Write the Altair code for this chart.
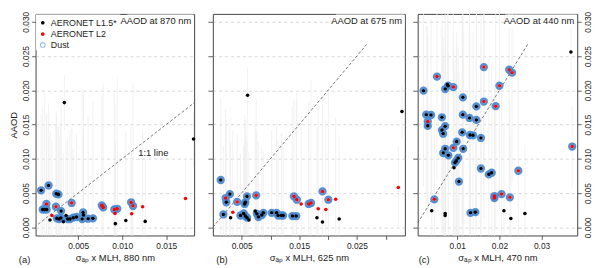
import altair as alt
import pandas as pd

# ---------------- data ----------------
# panel (a) AAOD at 870 nm
a_x = [0.00079, 0.00164, 0.00251, 0.00276, 0.00139, 0.00097, 0.00120, 0.00142, 0.00247, 0.00426,
       0.00306, 0.00202, 0.00180, 0.00258, 0.00284, 0.00303, 0.00332, 0.00362, 0.00381, 0.00407,
       0.00444, 0.00482, 0.00556, 0.00560, 0.00545, 0.00612, 0.00668, 0.00768, 0.00784, 0.00910,
       0.00944, 0.00918, 0.00922, 0.01041, 0.01101, 0.01123, 0.01108, 0.01232, 0.01261, 0.01719,
       0.01810, 0.00343]
a_y = [0.0054, 0.0061, 0.0049, 0.0048, 0.0034, 0.0026, 0.0026, 0.0026, 0.0030, 0.00355,
       0.00236, 0.00172, 0.00106, 0.0013, 0.0012, 0.00135, 0.00082, 0.00172, 0.0012, 0.0012,
       0.0014, 0.0015, 0.00216, 0.00178, 0.0012, 0.00125, 0.0013, 0.0032, 0.0029, 0.0026,
       0.0027, 0.0020, 0.00053, 0.0010, 0.00365, 0.0031, 0.00197, 0.0030, 0.00086, 0.0042,
       0.0129, 0.0182]
a_src = ["L15", "L15", "L15", "L15", "L2", "L15", "L15", "L15", "L2", "L2",
         "L15", "L2", "L15", "L15", "L15", "L15", "L15", "L15", "L15", "L15",
         "L15", "L15", "L15", "L15", "L15", "L15", "L15", "L2", "L2", "L2",
         "L2", "L2", "L15", "L15", "L2", "L2", "L2", "L2", "L15", "L2",
         "L15", "L15"]
a_dust = [1, 1, 1, 1, 1, 1, 1, 1, 1, 1,
          1, 0, 0, 1, 1, 1, 0, 0, 1, 1,
          1, 1, 1, 0, 1, 1, 1, 1, 1, 1,
          1, 0, 0, 0, 1, 1, 0, 0, 0, 0,
          0, 0]
a_err = [0.011, 0.012, 0.012, 0.010, 0.013, 0.015, 0.017, 0.014, 0.012, 0.011,
         0.016, 0.011, 0.013, 0.015, 0.012, 0.014, 0.010, 0.011, 0.012, 0.013,
         0.010, 0.012, 0.011, 0.018, 0.019, 0.015, 0.017, 0.016, 0.018, 0.017,
         0.019, 0.016, 0.012, 0.013, 0.011, 0.018, 0.009, 0.011, 0.009, 0.006,
         0.004, 0.004]

# panel (b) AAOD at 675 nm
b_x = [0.00137, 0.00296, 0.00222, 0.00234, 0.00422, 0.00593, 0.00564, 0.00552, 0.00752, 0.00183,
       0.00347, 0.00308, 0.00479, 0.00535, 0.00564, 0.00593, 0.00627, 0.00735, 0.00764, 0.00791,
       0.00850, 0.00877, 0.01021, 0.01106, 0.01133, 0.01191, 0.01219, 0.01380, 0.01448, 0.01407,
       0.01458, 0.01533, 0.01663, 0.01704, 0.01903, 0.01829, 0.01961, 0.02005, 0.02132, 0.01807,
       0.01903, 0.02193, 0.03219, 0.00603, 0.03282]
b_y = [0.0069, 0.00484, 0.00427, 0.00365, 0.0037, 0.00451, 0.00365, 0.0034, 0.00466, 0.00187,
       0.0022, 0.0014, 0.00172, 0.00201, 0.00164, 0.0014, 0.00106, 0.00236, 0.00197, 0.0015,
       0.00178, 0.00211, 0.00211, 0.00211, 0.00172, 0.00172, 0.00172, 0.00164, 0.00164, 0.00451,
       0.00402, 0.0034, 0.0034, 0.00355, 0.00523, 0.00269, 0.00259, 0.00402, 0.00408, 0.0014,
       0.00078, 0.00121, 0.0058, 0.01926, 0.0169]
b_src = ["L15", "L15", "L2", "L15", "L2", "L15", "L15", "L15", "L2", "L15",
         "L2", "L15", "L15", "L15", "L15", "L15", "L15", "L15", "L15", "L15",
         "L15", "L15", "L15", "L15", "L15", "L15", "L15", "L15", "L15", "L2",
         "L2", "L2", "L2", "L2", "L2", "L2", "L2", "L2", "L2", "L15",
         "L15", "L15", "L2", "L15", "L15"]
b_dust = [1, 1, 1, 1, 1, 1, 1, 1, 1, 1,
          0, 0, 1, 1, 1, 1, 0, 0, 1, 1,
          1, 1, 1, 1, 1, 1, 1, 1, 1, 1,
          1, 0, 1, 1, 1, 0, 0, 1, 0, 0,
          0, 0, 0, 0, 0]
b_err = [0.012, 0.011, 0.013, 0.012, 0.010, 0.011, 0.012, 0.013, 0.014, 0.010,
         0.012, 0.011, 0.009, 0.010, 0.012, 0.011, 0.010, 0.013, 0.012, 0.011,
         0.010, 0.009, 0.012, 0.013, 0.011, 0.012, 0.010, 0.016, 0.017, 0.014,
         0.016, 0.013, 0.015, 0.018, 0.014, 0.015, 0.013, 0.016, 0.012, 0.013,
         0.014, 0.012, 0.006, 0.004, 0.004]

# panel (c) AAOD at 440 nm
c_x = [0.01631, 0.00519, 0.02231, 0.02301, 0.00766, 0.00783, 0.00713, 0.00907, 0.00199, 0.02000,
       0.01133, 0.01631, 0.01453, 0.01911, 0.00262, 0.00379, 0.01133, 0.00636, 0.01290, 0.01453,
       0.00300, 0.00300, 0.00636, 0.00713, 0.00666, 0.01117, 0.01300, 0.01374, 0.01561, 0.00986,
       0.03727, 0.00713, 0.00666, 0.00907, 0.01140, 0.00790, 0.01023, 0.00977, 0.00946, 0.00923,
       0.01561, 0.01748, 0.01818, 0.02449, 0.01040, 0.00456, 0.01881, 0.01881, 0.02051, 0.02248,
       0.00393, 0.00713, 0.00713, 0.01313, 0.01430, 0.02107, 0.02271, 0.02605, 0.03696]
c_y = [0.02339, 0.0220, 0.0230, 0.02257, 0.02084, 0.02066, 0.02018, 0.02047, 0.01994, 0.02066,
       0.01897, 0.01836, 0.01764, 0.01768, 0.01644, 0.01639, 0.01644, 0.01606, 0.01596, 0.01567,
       0.01544, 0.0148, 0.01419, 0.01476, 0.01366, 0.01386, 0.01347, 0.01343, 0.01304, 0.0125,
       0.01179, 0.01146, 0.01084, 0.0116, 0.01146, 0.0105, 0.01012, 0.00969, 0.00944, 0.00868,
       0.00858, 0.00772, 0.00796, 0.00825, 0.00667, 0.00408, 0.00456, 0.00427, 0.00484, 0.00437,
       0.0024, 0.00201, 0.00172, 0.00211, 0.00221, 0.0024, 0.00129, 0.00201, 0.02559]
c_src = ["L2", "L2", "L2", "L2", "L15", "L15", "L15", "L2", "L15", "L2",
         "L15", "L2", "L15", "L2", "L15", "L15", "L15", "L15", "L15", "L15",
         "L2", "L15", "L15", "L15", "L15", "L15", "L15", "L15", "L15", "L15",
         "L2", "L15", "L15", "L2", "L15", "L15", "L15", "L15", "L15", "L15",
         "L15", "L15", "L15", "L2", "L15", "L2", "L2", "L2", "L2", "L2",
         "L15", "L15", "L15", "L15", "L15", "L15", "L15", "L15", "L15"]
c_dust = [1, 1, 1, 1, 0, 1, 1, 1, 1, 1,
          1, 1, 1, 1, 1, 1, 1, 1, 1, 1,
          1, 1, 1, 1, 1, 1, 1, 1, 1, 1,
          1, 1, 1, 1, 1, 1, 1, 1, 1, 0,
          1, 1, 1, 1, 1, 1, 1, 1, 1, 1,
          0, 0, 0, 1, 1, 0, 0, 0, 0]
c_err = [0.017, 0.015, 0.018, 0.016, 0.014, 0.015, 0.016, 0.017, 0.014, 0.018,
         0.016, 0.017, 0.015, 0.018, 0.013, 0.014, 0.016, 0.015, 0.017, 0.016,
         0.014, 0.013, 0.015, 0.016, 0.014, 0.017, 0.016, 0.015, 0.018, 0.016,
         0.006, 0.015, 0.014, 0.016, 0.017, 0.015, 0.016, 0.017, 0.015, 0.014,
         0.018, 0.017, 0.016, 0.015, 0.016, 0.012, 0.017, 0.016, 0.015, 0.014,
         0.012, 0.013, 0.012, 0.016, 0.017, 0.013, 0.012, 0.010, 0.004]

panel_titles = ["AAOD at 870 nm", "AAOD at 675 nm", "AAOD at 440 nm"]
x_titles = ["σₐₚ x MLH, 880 nm", "σₐₚ x MLH, 625 nm", "σₐₚ x MLH, 470 nm"]
letters = ["(a)", "(b)", "(c)"]
legend_labels = ["AERONET L1.5*", "AERONET L2", "Dust"]
src_codes = ["L15", "L2"]
y_ticks = [0.0, 0.005, 0.010, 0.015, 0.020, 0.025, 0.030]
a_xticks = [0.005, 0.010, 0.015]
b_xticks = [0.005, 0.010, 0.015, 0.020, 0.025, 0.030]
c_xticks = [0.01, 0.02, 0.03]
line_a = [0.0, 0.030]
line_bc = [0.0, 0.0267]
note_x, note_y, note_text = [0.0116], [0.0109], ["1:1 line"]

# ---------------- style ----------------
FONT = "Liberation Sans"
INK = "#3a3a3a"
BLUE = "#4a8ad2"
H = 225
Y_DOM = [-0.0012, 0.03115]
ONE = pd.DataFrame({"k": [0]})


def make_panel(x, y, src, dust, err, xdom, W, xticks, xfmt, label_expr,
               title, title_box, letter, letter_dx, xtitle, line_pts,
               left_labels, right_axis, legend=False, note=False):
    df = pd.DataFrame({"x": x, "y": y, "src": src, "dust": dust, "err": err})
    df["lo"] = df["y"] - df["err"]
    df["hi"] = df["y"] + df["err"]
    xs = alt.Scale(domain=xdom, nice=False, zero=False)
    ys = alt.Scale(domain=Y_DOM, nice=False, zero=False)

    xaxis_kw = dict(values=xticks, format=xfmt, title=xtitle, grid=False, domain=False,
                    tickSize=4, tickColor=INK, tickWidth=0.8, labelPadding=2,
                    titlePadding=3, labelFontSize=8.5, titleFontSize=9.5,
                    labelFlush=False, titleFontWeight="normal", labelColor="#222",
                    titleColor="#222")
    if label_expr:
        xaxis_kw["labelExpr"] = label_expr
    xaxis = alt.Axis(**xaxis_kw)

    grid_kw = dict(values=y_ticks, grid=True, gridDash=[3, 3], gridColor="#c4c4c4",
                   gridWidth=0.7, domain=False, tickColor=INK, tickWidth=0.8)
    if left_labels:
        yaxis = alt.Axis(orient="left", format=".3f", labelAngle=-90, labelAlign="center",
                         labelBaseline="bottom", tickSize=4, labelPadding=1,
                         labelFontSize=8.5, labelColor="#222", title="AAOD",
                         titleFontSize=9.5, titleFontWeight="normal", titlePadding=3,
                         titleColor="#222", **grid_kw)
    else:
        yaxis = alt.Axis(orient="left", labels=False, tickSize=5, title=None, **grid_kw)

    # with a shared y scale every layer carries the same axis; with independent
    # scales (panel c) only the first layer shows the left axis
    y_other = None if right_axis else yaxis

    def X(f):
        return alt.X(f, scale=xs, axis=xaxis)

    base = alt.Chart(df)
    layers = []
    layers.append(base.mark_rule(color="#eeeeee", strokeWidth=0.8, clip=True).encode(
        x=X("x:Q"), y=alt.Y("lo:Q", scale=ys, axis=yaxis), y2="hi:Q"))
    ldf = pd.DataFrame({"x": line_pts, "y": line_pts})
    layers.append(alt.Chart(ldf).mark_line(color="#555", strokeDash=[3, 2], strokeWidth=0.8,
                                           clip=True).encode(
        x=X("x:Q"), y=alt.Y("y:Q", scale=ys, axis=y_other)))
    layers.append(base.transform_filter("datum.dust == 1").mark_point(
        shape="circle", filled=False, size=36, strokeWidth=2.4, color=BLUE, opacity=0.95).encode(
        x=X("x:Q"), y=alt.Y("y:Q", scale=ys, axis=y_other)))
    layers.append(base.mark_circle(size=13, opacity=1).encode(
        x=X("x:Q"), y=alt.Y("y:Q", scale=ys, axis=y_other),
        color=alt.Color("src:N", scale=alt.Scale(domain=src_codes, range=["black", "#ff0000"]),
                        legend=None)))
    if right_axis:
        raxis = alt.Axis(orient="right", values=y_ticks, format=".3f", labelAngle=-90,
                         labelAlign="center", labelBaseline="top", tickSize=4,
                         labelPadding=2, labelFontSize=8.5, labelColor="#222",
                         grid=False, domain=False, title=None, tickColor=INK, tickWidth=0.8)
        layers.append(base.mark_point(opacity=0).encode(
            x=X("x:Q"), y=alt.Y("y:Q", scale=ys, axis=raxis)))
    if note:
        ndf = pd.DataFrame({"x": note_x, "y": note_y, "t": note_text})
        layers.append(alt.Chart(ndf).mark_text(align="left", baseline="middle", fontSize=9.5,
                                               font=FONT, color="#222", dx=2).encode(
            x=X("x:Q"), y=alt.Y("y:Q", scale=ys, axis=y_other), text="t:N"))
    one = alt.Chart(ONE)
    # panel title with white box
    layers.append(one.mark_rect(color="white").encode(
        x=alt.value(W - title_box), x2=alt.value(W - 0.5), y=alt.value(0.5), y2=alt.value(14)))
    layers.append(one.mark_text(align="right", baseline="middle", fontSize=9.5, font=FONT,
                                color="#222").encode(
        x=alt.value(W - 3), y=alt.value(7.5), text=alt.value(title)))
    if legend:
        layers.append(one.mark_rect(color="white").encode(
            x=alt.value(0.5), x2=alt.value(86), y=alt.value(0.5), y2=alt.value(37)))
        layers.append(one.mark_circle(size=14, color="black", opacity=1).encode(
            x=alt.value(7.3), y=alt.value(9)))
        layers.append(one.mark_circle(size=14, color="#ff0000", opacity=1).encode(
            x=alt.value(7.3), y=alt.value(20.5)))
        layers.append(one.mark_point(shape="circle", filled=False, size=22, strokeWidth=1.1,
                                     color="#6fa6e2").encode(
            x=alt.value(7.3), y=alt.value(31.5)))
        for lab, yy in zip(legend_labels, [9, 20.5, 31.5]):
            layers.append(one.mark_text(align="left", baseline="middle", fontSize=9,
                                        font=FONT, color="#222").encode(
                x=alt.value(15.5), y=alt.value(yy), text=alt.value(lab)))
    layers.append(one.mark_text(align="left", baseline="middle", fontSize=9.5, font=FONT,
                                color="#222").encode(
        x=alt.value(letter_dx), y=alt.value(H + 25), text=alt.value(letter)))

    ch = alt.layer(*layers).properties(width=W, height=H)
    if right_axis:
        ch = ch.resolve_scale(y="independent")
    return ch


pa = make_panel(a_x, a_y, a_src, a_dust, a_err, [0.00016, 0.01817], 161, a_xticks, ".3f", None,
                panel_titles[0], 68, letters[0], -17, x_titles[0], line_a,
                left_labels=True, right_axis=False, legend=True, note=True)
pb = make_panel(b_x, b_y, b_src, b_dust, b_err, [0.0, 0.03333], 195, b_xticks, ".3f",
                "round(datum.value*1000) % 10 == 5 ? format(datum.value, '.3f') : ''",
                panel_titles[1], 70, letters[1], 3.5, x_titles[1], line_bc,
                left_labels=False, right_axis=False)
pc = make_panel(c_x, c_y, c_src, c_dust, c_err, [0.00061, 0.03846], 162, c_xticks, ".2f", None,
                panel_titles[2], 73, letters[2], 1, x_titles[2], line_bc,
                left_labels=False, right_axis=True)

chart = alt.hconcat(pa, alt.hconcat(pb, pc, spacing=6), spacing=11).properties(
    padding={"left": 0, "top": 0, "right": 0, "bottom": 0}
).configure_view(stroke="#444", strokeWidth=1).configure_axis(
    labelFont=FONT, titleFont=FONT
).configure_text(font=FONT)

chart.save("out.html", embed_options={"renderer": "svg", "actions": False})
